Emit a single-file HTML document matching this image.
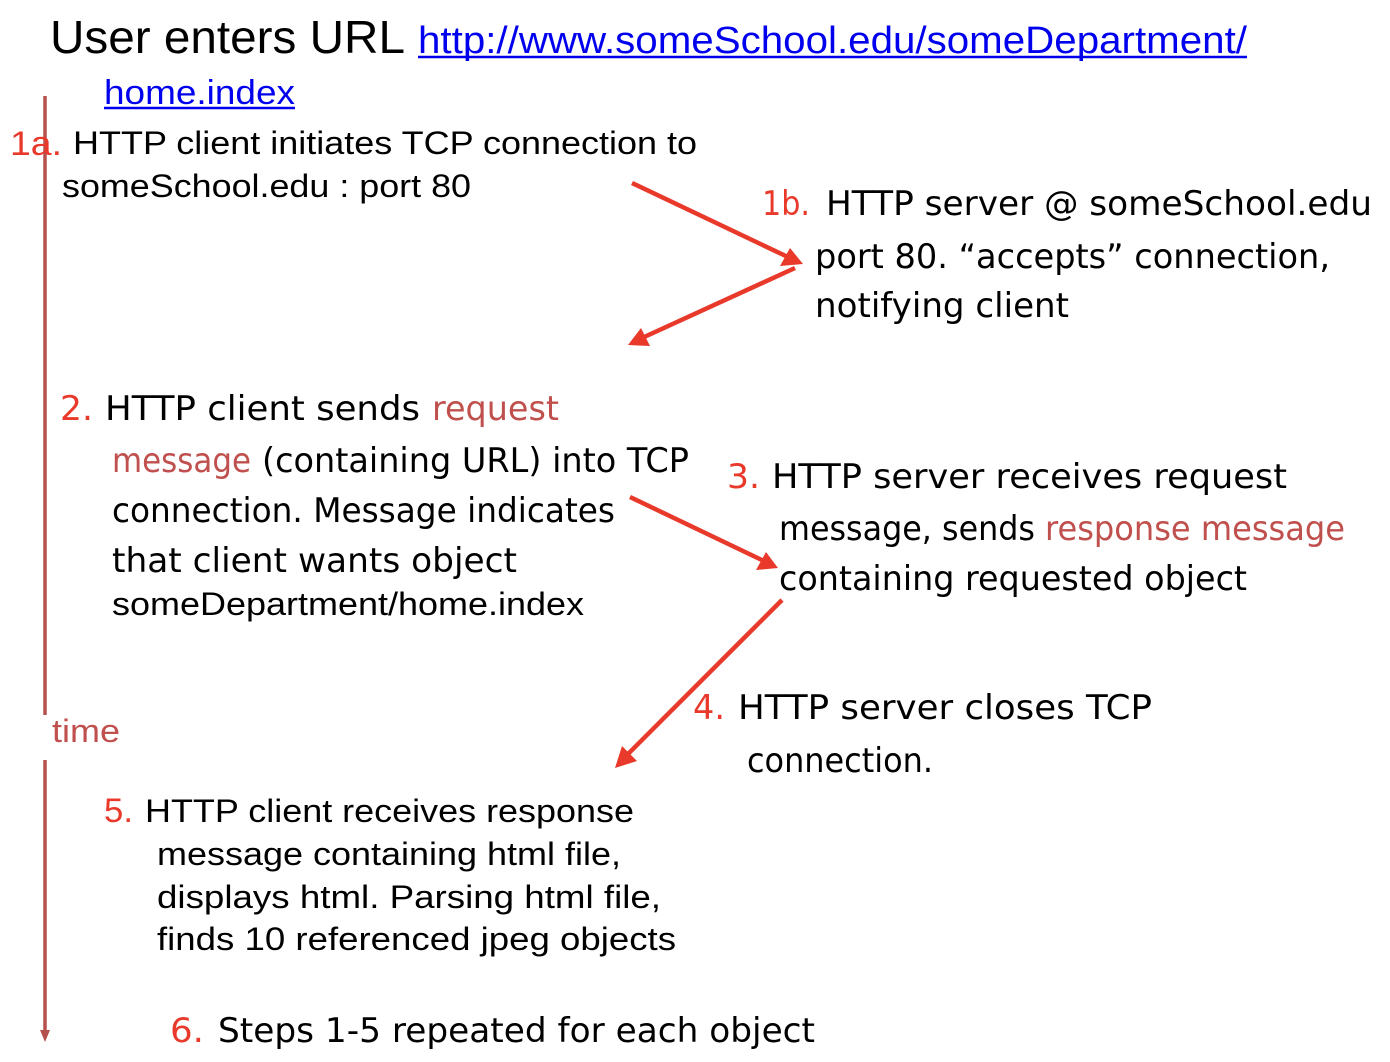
<!DOCTYPE html>
<html><head><meta charset="utf-8"><style>
html,body{margin:0;padding:0;background:#fff;width:1390px;height:1062px;overflow:hidden}
svg{display:block}
.l{font-family:"Liberation Sans",sans-serif}
.c{font-family:"DejaVu Sans","Liberation Sans",sans-serif}
.r{fill:#e8392b}
.b{fill:#c0504d}
.k{fill:#000}
</style></head><body>
<svg width="1390" height="1062" xmlns="http://www.w3.org/2000/svg">
<defs>
<marker id="ah" markerWidth="8" markerHeight="8" refX="6" refY="4" orient="auto" markerUnits="userSpaceOnUse" viewBox="0 0 8 8">
</marker>
</defs>
<!-- time line -->
<line x1="45" y1="96" x2="45" y2="715" stroke="#b5504c" stroke-width="3.5"/>
<line x1="45" y1="760" x2="45" y2="1032" stroke="#b5504c" stroke-width="3.5"/>
<polygon points="40,1030 50,1030 45,1042" fill="#b5504c"/>

<!-- arrows -->
<g stroke="#e8392b" stroke-width="4.5" fill="none">
<line x1="632" y1="183" x2="790" y2="258"/>
<line x1="795" y1="268" x2="642" y2="338"/>
<line x1="630" y1="497" x2="766" y2="562"/>
<line x1="782" y1="600" x2="626" y2="756"/>
</g>
<g fill="#e8392b">
<polygon points="803,264 780,266 790,248"/>
<polygon points="628,345 641,328 650,346"/>
<polygon points="778,568 756,570 766,552"/>
<polygon points="615,768 622,746 637,761"/>
</g>

<g class="l" font-size="46"><text x="50" y="53" textLength="355" lengthAdjust="spacingAndGlyphs" class="k">User enters URL</text></g>
<text class="l" x="418" y="53" font-size="38" fill="#0000ee" textLength="829" lengthAdjust="spacingAndGlyphs">http://www.someSchool.edu/someDepartment/</text>
<line x1="418" y1="57" x2="1247" y2="57" stroke="#0000ee" stroke-width="2.5"/>
<text class="l" x="104" y="104" font-size="34" fill="#0000ee" textLength="191" lengthAdjust="spacingAndGlyphs">home.index</text>
<line x1="104" y1="108" x2="295" y2="108" stroke="#0000ee" stroke-width="2.5"/>

<g class="l" font-size="32">
<text x="10" y="155" class="r" font-size="34" textLength="52" lengthAdjust="spacingAndGlyphs">1a.</text>
<text x="73" y="154" class="k" textLength="624" lengthAdjust="spacingAndGlyphs">HTTP client initiates TCP connection to</text>
<text x="62" y="197" class="k" textLength="409" lengthAdjust="spacingAndGlyphs">someSchool.edu : port 80</text>
<text x="52" y="742" class="b" textLength="68" lengthAdjust="spacingAndGlyphs">time</text>
<text x="112" y="615" class="k" textLength="472" lengthAdjust="spacingAndGlyphs">someDepartment/home.index</text>
<text x="104" y="822" class="r" font-size="34" textLength="29" lengthAdjust="spacingAndGlyphs">5.</text>
<text x="145" y="822" class="k" textLength="489" lengthAdjust="spacingAndGlyphs">HTTP client receives response</text>
<text x="157" y="865" class="k" textLength="464" lengthAdjust="spacingAndGlyphs">message containing html file,</text>
<text x="157" y="908" class="k" textLength="504" lengthAdjust="spacingAndGlyphs">displays html.  Parsing html file,</text>
<text x="157" y="950" class="k" textLength="519" lengthAdjust="spacingAndGlyphs">finds 10 referenced jpeg  objects</text>
</g>

<g class="c" font-size="34">
<text x="762" y="215" class="r" textLength="48" lengthAdjust="spacingAndGlyphs">1b.</text>
<text x="826" y="215" class="k" textLength="546" lengthAdjust="spacingAndGlyphs">HTTP server @ someSchool.edu</text>
<text x="815" y="268" class="k" textLength="515" lengthAdjust="spacingAndGlyphs">port 80.  “accepts” connection,</text>
<text x="815" y="317" class="k" textLength="254" lengthAdjust="spacingAndGlyphs">notifying client</text>

<text x="60" y="420" class="r" textLength="33" lengthAdjust="spacingAndGlyphs">2.</text>
<text x="105" y="420" class="k" textLength="315" lengthAdjust="spacingAndGlyphs">HTTP client sends</text>
<text x="432" y="420" class="b" textLength="127" lengthAdjust="spacingAndGlyphs">request</text>
<text x="112" y="472" class="b" textLength="139" lengthAdjust="spacingAndGlyphs">message</text>
<text x="262" y="472" class="k" textLength="427" lengthAdjust="spacingAndGlyphs">(containing URL) into TCP</text>
<text x="112" y="522" class="k" textLength="503" lengthAdjust="spacingAndGlyphs">connection. Message indicates</text>
<text x="112" y="572" class="k" textLength="405" lengthAdjust="spacingAndGlyphs">that client wants object</text>

<text x="727" y="488" class="r" textLength="33" lengthAdjust="spacingAndGlyphs">3.</text>
<text x="772" y="488" class="k" textLength="515" lengthAdjust="spacingAndGlyphs">HTTP server receives request</text>
<text x="779" y="540" class="k" textLength="256" lengthAdjust="spacingAndGlyphs">message, sends</text>
<text x="1045" y="540" class="b" textLength="300" lengthAdjust="spacingAndGlyphs">response message</text>
<text x="779" y="590" class="k" textLength="468" lengthAdjust="spacingAndGlyphs">containing requested object</text>

<text x="693" y="719" class="r" textLength="32" lengthAdjust="spacingAndGlyphs">4.</text>
<text x="738" y="719" class="k" textLength="414" lengthAdjust="spacingAndGlyphs">HTTP server closes TCP</text>
<text x="747" y="772" class="k" textLength="186" lengthAdjust="spacingAndGlyphs">connection.</text>

<text x="170" y="1042" class="r" textLength="34" lengthAdjust="spacingAndGlyphs">6.</text>
<text x="218" y="1042" class="k" textLength="597" lengthAdjust="spacingAndGlyphs">Steps 1-5 repeated for each object</text>
</g>
</svg>
</body></html>
